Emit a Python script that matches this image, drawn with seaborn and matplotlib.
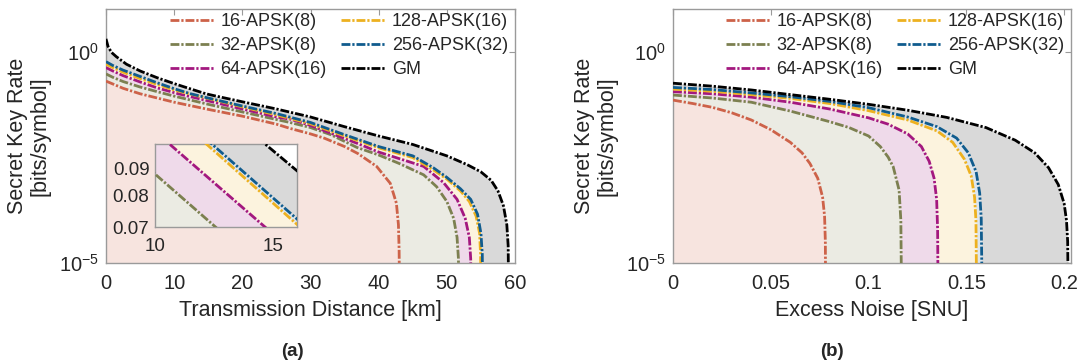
import numpy as np
import matplotlib
matplotlib.use("Agg")
import matplotlib.pyplot as plt
import seaborn as sns

# ---------------- data (log10 of secret key rate) ----------------
series_names = ["16-APSK(8)", "32-APSK(8)", "64-APSK(16)", "128-APSK(16)", "256-APSK(32)", "GM"]

# (a) transmission distance [km]
a_16_x = [0, 2.5, 5, 7.5, 10, 15, 20, 25, 27, 30, 32, 35, 37, 39.7, 41.7, 42.6, 42.9, 43.0, 43.05]
a_16_lg = [-0.70, -0.87, -1.0, -1.1, -1.2, -1.37, -1.53, -1.72, -1.82, -1.95, -2.05, -2.25, -2.42, -2.72, -3.12, -3.59, -4.1, -4.7, -5.5]
a_32_x = [0, 1, 2.5, 5, 7.5, 10, 12.56, 15, 20, 25, 27, 30, 33, 36.8, 40, 43, 46.6, 48.5, 50.0, 51.0, 51.5, 51.7, 51.75]
a_32_lg = [-0.53, -0.61, -0.71, -0.84, -0.95, -1.056, -1.155, -1.25, -1.43, -1.61, -1.68, -1.8, -1.97, -2.27, -2.45, -2.65, -2.92, -3.2, -3.55, -3.95, -4.4, -4.9, -5.5]
a_64_x = [0, 1, 2.5, 5, 7.5, 10.61, 14.65, 20, 25, 27, 30, 36.8, 40, 46.6, 49.5, 51.5, 52.7, 53.3, 53.5, 53.55]
a_64_lg = [-0.38, -0.46, -0.57, -0.72, -0.86, -1.0, -1.155, -1.36, -1.55, -1.6, -1.75, -2.17, -2.38, -2.72, -3.1, -3.5, -3.95, -4.4, -4.9, -5.5]
a_128_x = [0, 1, 2.5, 5, 7.5, 10, 12.17, 16, 20, 25, 30, 35, 40, 45, 48, 50, 52, 53.3, 54.3, 54.8, 54.95, 55.0]
a_128_lg = [-0.30, -0.38, -0.49, -0.64, -0.78, -0.91, -1.0, -1.15, -1.31, -1.5, -1.71, -2.0, -2.28, -2.51, -2.8, -3.02, -3.3, -3.55, -3.9, -4.3, -4.8, -5.5]
a_256_x = [0, 1, 2.5, 5, 7.5, 10, 12.4, 16, 20, 25, 30, 35, 40, 45, 48, 50, 52, 53.5, 54.5, 55.0, 55.2, 55.25]
a_256_lg = [-0.24, -0.33, -0.44, -0.59, -0.74, -0.88, -1.0, -1.14, -1.29, -1.47, -1.68, -1.97, -2.25, -2.47, -2.75, -2.98, -3.25, -3.5, -3.85, -4.3, -4.8, -5.5]
a_gm_x = [0, 0.3, 0.8, 1.5, 3, 5, 7.5, 10, 12.5, 14.65, 16, 20, 25, 30, 35, 40, 45, 50, 53, 55, 56.5, 57.5, 58.3, 58.8, 59.0, 59.05]
a_gm_lg = [0.3, 0.12, -0.02, -0.12, -0.3, -0.46, -0.62, -0.76, -0.89, -1.0, -1.05, -1.19, -1.36, -1.55, -1.78, -2.0, -2.2, -2.47, -2.68, -2.85, -3.05, -3.3, -3.65, -4.1, -4.6, -5.5]

# (b) excess noise [SNU]
b_16_x = [0, 0.01, 0.02, 0.03, 0.04, 0.05, 0.06, 0.066, 0.07, 0.074, 0.0765, 0.0775, 0.0779, 0.078]
b_16_lg = [-1.15, -1.23, -1.32, -1.45, -1.62, -1.85, -2.15, -2.4, -2.65, -3.0, -3.45, -3.9, -4.5, -5.5]
b_32_x = [0, 0.02, 0.04, 0.06, 0.08, 0.09, 0.1, 0.106, 0.11, 0.1126, 0.1156, 0.1165, 0.1168]
b_32_lg = [-1.03, -1.10, -1.20, -1.41, -1.66, -1.80, -2.0, -2.25, -2.5, -2.73, -3.28, -4.0, -5.5]
b_64_x = [0, 0.02, 0.04, 0.06, 0.08, 0.1, 0.11, 0.12, 0.127, 0.131, 0.1335, 0.1348, 0.1353, 0.1355]
b_64_lg = [-0.95, -1.0, -1.08, -1.2, -1.36, -1.57, -1.72, -1.95, -2.25, -2.6, -3.0, -3.5, -4.2, -5.5]
b_128_x = [0, 0.02, 0.04, 0.06, 0.08, 0.1, 0.12, 0.135, 0.143, 0.149, 0.1525, 0.1542, 0.1549, 0.1552]
b_128_lg = [-0.89, -0.94, -1.02, -1.11, -1.23, -1.4, -1.62, -1.88, -2.15, -2.55, -2.95, -3.45, -4.0, -5.5]
b_256_x = [0, 0.02, 0.04, 0.06, 0.08, 0.1, 0.12, 0.135, 0.145, 0.151, 0.155, 0.1568, 0.1576, 0.158]
b_256_lg = [-0.85, -0.9, -0.98, -1.07, -1.18, -1.33, -1.55, -1.78, -2.05, -2.4, -2.85, -3.35, -3.95, -5.5]
b_gm_x = [0, 0.02, 0.04, 0.06, 0.08, 0.1, 0.12, 0.14, 0.16, 0.175, 0.185, 0.192, 0.197, 0.2, 0.2012, 0.2018, 0.202]
b_gm_lg = [-0.75, -0.82, -0.91, -1.02, -1.13, -1.25, -1.39, -1.56, -1.8, -2.1, -2.4, -2.75, -3.15, -3.6, -4.0, -4.5, -5.5]

a_series = [(a_16_x, a_16_lg), (a_32_x, a_32_lg), (a_64_x, a_64_lg),
            (a_128_x, a_128_lg), (a_256_x, a_256_lg), (a_gm_x, a_gm_lg)]
b_series = [(b_16_x, b_16_lg), (b_32_x, b_32_lg), (b_64_x, b_64_lg),
            (b_128_x, b_128_lg), (b_256_x, b_256_lg), (b_gm_x, b_gm_lg)]

a_xticks = [0, 10, 20, 30, 40, 50, 60]
b_xticks = [0, 0.05, 0.1, 0.15, 0.2]
b_xticklabels = ["0", "0.05", "0.1", "0.15", "0.2"]
inset_xticks = [10, 15]
inset_yticks = [0.07, 0.08, 0.09]

# ---------------- style ----------------
line_colors = ["#CD6249", "#7C8050", "#A3187F", "#EDB120", "#105C8E", "#000000"]
fill_colors = ["#F7E4DF", "#EBEBE3", "#EFDAEA", "#FCF3DE", "#DDE6EE", "#D9D9D9"]
dash = (0, (3.2, 0.7, 0.8, 0.7))
LW = 2.0
TXT = "#262626"
SPINE = "#9a9a9a"

sns.set_theme(style="white")
plt.rcParams["font.family"] = ["Liberation Sans", "DejaVu Sans"]
plt.rcParams["mathtext.fontset"] = "custom"
plt.rcParams["mathtext.rm"] = "Liberation Sans"
plt.rcParams["mathtext.it"] = "Liberation Sans:italic"
plt.rcParams["axes.unicode_minus"] = False

fig = plt.figure(figsize=(10.83, 3.63), dpi=100)
ax1 = fig.add_axes([106 / 1083, (363 - 262.7) / 363, 409 / 1083, 253.4 / 363])
ax2 = fig.add_axes([673 / 1083, (363 - 262.7) / 363, 398 / 1083, 253.4 / 363])


def draw(ax, series, legend=True):
    # fills from outermost (GM) to innermost (16-APSK)
    for i in range(len(series) - 1, -1, -1):
        x, lg = series[i]
        y = 10.0 ** np.asarray(lg)
        ax.fill_between(x, y, 1e-7, color=fill_colors[i], linewidth=0, zorder=1 + (len(series) - i) * 0.01)
    for i, (x, lg) in enumerate(series):
        y = 10.0 ** np.asarray(lg)
        sns.lineplot(x=x, y=y, ax=ax, color=line_colors[i], linewidth=LW, linestyle=dash,
                     label=series_names[i] if legend else None, estimator=None, sort=False, zorder=3)


def style_axes(ax, fs=13):
    for s in ax.spines.values():
        s.set_color(SPINE)
        s.set_linewidth(1.0)
    ax.tick_params(axis="both", which="major", direction="in", length=4, width=0.8,
                   color=SPINE, labelsize=fs, labelcolor=TXT, top=True, right=True, pad=5)
    ax.tick_params(axis="both", which="minor", length=0)


draw(ax1, a_series)
draw(ax2, b_series)

for ax in (ax1, ax2):
    ax.set_yscale("log")
    ax.set_ylim(1e-5, 10)
    ax.set_yticks([1e-5, 1])
    ax.set_yticklabels([r"$10^{-5}$", r"$10^{0}$"])
    ax.minorticks_off()
    style_axes(ax, 14.5)
    ax.tick_params(axis="x", pad=8)
    ax.set_ylabel("Secret Key Rate\n[bits/symbol]", fontsize=15.5, color=TXT, labelpad=6, linespacing=1.1)
    ax.legend(ncol=2, loc="upper right", bbox_to_anchor=(1.0, 1.012), frameon=False, fontsize=13,
              handlelength=2.5, handletextpad=0.3, columnspacing=0.8, labelspacing=0.37,
              borderaxespad=0.0, labelcolor=TXT)

ax1.set_xlim(0, 60)
ax1.set_xticks(a_xticks)
ax1.set_xlabel("Transmission Distance [km]", fontsize=15.5, color=TXT, labelpad=5)
ax2.set_xlim(0, 0.2035)
ax2.set_xticks(b_xticks)
ax2.set_xticklabels(b_xticklabels)
ax2.set_xlabel("Excess Noise [SNU]", fontsize=15.5, color=TXT, labelpad=5)

# inset
axin = ax1.inset_axes([(155 - 106) / 409, (262.7 - 227) / 253.4, 142 / 409, 83 / 253.4])
draw(axin, a_series, legend=False)
axin.set_yscale("log")
axin.set_xlim(10, 16)
axin.set_ylim(0.07, 0.1)
axin.set_xticks(inset_xticks)
axin.set_yticks(inset_yticks)
axin.set_yticklabels(["0.07", "0.08", "0.09"])
axin.minorticks_off()
axin.set_xlabel("")
axin.set_ylabel("")
style_axes(axin, 13.5)
axin.tick_params(top=False, right=False, length=0, pad=4)
axin.tick_params(axis="x", pad=8)
axin.set_zorder(5)

fig.text(292 / 1083, 11 / 363, "(a)", ha="center", va="center", fontsize=13.5, fontweight="bold", color=TXT)
fig.text(832 / 1083, 11 / 363, "(b)", ha="center", va="center", fontsize=13.5, fontweight="bold", color=TXT)

fig.savefig("out.png", dpi=100)
